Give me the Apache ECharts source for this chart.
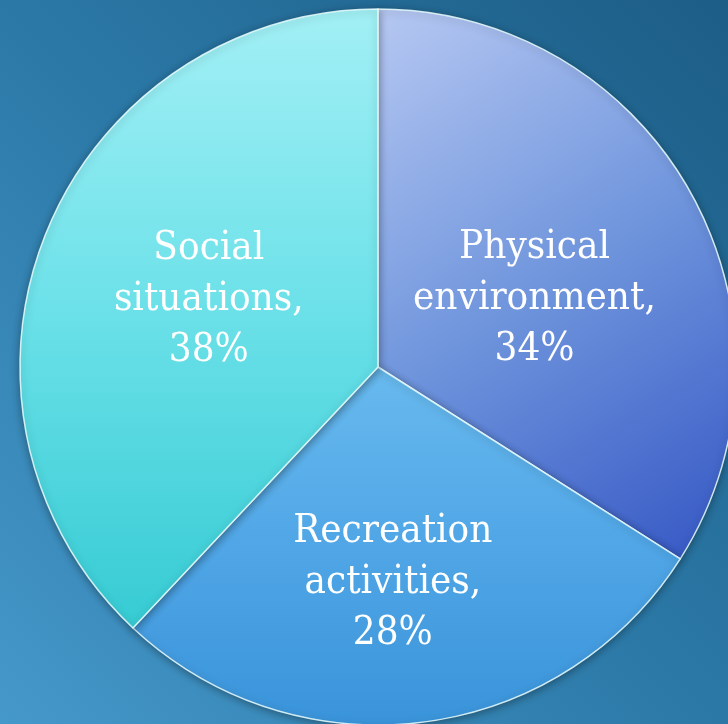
<!DOCTYPE html>
<html>
<head>
<meta charset="utf-8">
<script src="https://cdn.jsdelivr.net/npm/echarts@6/dist/echarts.min.js"></script>
<style>
html,body{margin:0;padding:0;}
#chart{width:728px;height:724px;}
</style>
</head>
<body>
<div id="chart"></div>
<script>
var categories = ['Physical environment', 'Recreation activities', 'Social situations'];
var labelNames = ['Physical\nenvironment,', 'Recreation\nactivities,', 'Social\nsituations,'];
var values = [34, 28, 38];

var sliceStyles = [
  { colors: ['#b6c8f2', '#6e94dc', '#3456c4'], x2: 1, y2: 1, offset: [-3, 19] },
  { colors: ['#68baee', '#50a6e6', '#3a94da'], x2: 0, y2: 1, offset: [-8, 35] },
  { colors: ['#a2f0f5', '#6ae0e8', '#36cbd3'], x2: 0, y2: 1, offset: [0, 0] }
];

var chart = echarts.init(document.getElementById('chart'));
var data = categories.map(function (c, i) {
  var s = sliceStyles[i];
  return {
    name: c,
    value: values[i],
    itemStyle: {
      color: new echarts.graphic.LinearGradient(0, 0, s.x2, s.y2, [
        { offset: 0, color: s.colors[0] },
        { offset: 0.5, color: s.colors[1] },
        { offset: 1, color: s.colors[2] }
      ])
    },
    label: {
      offset: s.offset,
      formatter: labelNames[i] + '\n' + values[i] + '%'
    }
  };
});

chart.setOption({
  backgroundColor: new echarts.graphic.LinearGradient(0, 1, 1, 0, [
    { offset: 0, color: '#4598ca' },
    { offset: 0.5, color: '#2b78a6' },
    { offset: 1, color: '#1c5d86' }
  ]),
  animation: false,
  series: [{
    type: 'pie',
    center: [378, 367],
    radius: [0, 358],
    startAngle: 90,
    clockwise: true,
    data: data,
    label: {
      show: true,
      position: 'inside',
      color: '#ffffff',
      fontFamily: '"DejaVu Serif Condensed", "DejaVu Serif", serif',
      fontSize: 40,
      lineHeight: 51,
      align: 'center'
    },
    labelLine: { show: false },
    itemStyle: {
      borderColor: 'rgba(235,255,255,0.85)',
      borderWidth: 1.5,
      shadowBlur: 8,
      shadowColor: 'rgba(0,0,0,0.35)',
      shadowOffsetY: 2
    },
    emphasis: { disabled: true }
  }]
});
</script>
</body>
</html>
